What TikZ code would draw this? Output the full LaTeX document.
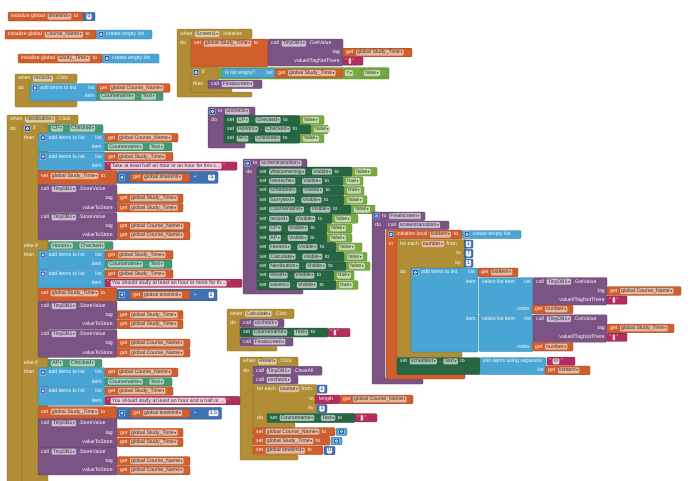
\documentclass[tikz,border=0pt]{standalone}
\usepackage{fontspec}
\setmainfont{Liberation Sans}
\newfontfamily\symf{DejaVu Sans}
\definecolor{vor}{HTML}{D05F2D}
\definecolor{ctl}{HTML}{B18E35}
\definecolor{lst}{HTML}{49A6D4}
\definecolor{mth}{HTML}{3F71B5}
\definecolor{prc}{HTML}{7C5385}
\definecolor{setg}{HTML}{266643}
\definecolor{getg}{HTML}{439970}
\definecolor{lgc}{HTML}{77AB41}
\definecolor{txt}{HTML}{B32D5E}
\definecolor{gearc}{HTML}{2F5DA8}
\colorlet{vorF}{vor!45!white}
\colorlet{ctlF}{ctl!45!white}
\colorlet{prcF}{prc!40!white}
\colorlet{setgF}{setg!40!white}
\colorlet{getgF}{getg!45!white}
\colorlet{lgcF}{lgc!45!white}
\colorlet{txtF}{txt!22!white}
\colorlet{mthF}{mth!10!white}
\newcommand\fs{\fontsize{5.2}{6}\selectfont}
\newcommand\dd{\hspace{0.6pt}{\symf\fontsize{3.6}{3.6}\selectfont ▾}}
\newcount\nc
\newcommand\nn{\global\advance\nc by 1\relax}
\tikzset{
  lbl/.style={anchor=west, inner sep=0pt, text=white, font=\fs, text height=3.7pt, text depth=1.1pt},
  lblr/.style={lbl, anchor=east},
  fld/.style={anchor=west, fill=#1, text=black!80, inner xsep=1.2pt, inner ysep=0pt, minimum height=6pt, text height=3.7pt, text depth=1.1pt, rounded corners=1pt, font=\fs},
  blk/.style={fill=#1, draw=#1!70!black, line width=0.3pt, rounded corners=1pt},
}
\newcommand\kB[5]{\path[blk=#1] (#2,#3) rectangle (#4,#5);}
\newcommand\kC[9]{\path[blk=#1] (#2,#3) -- (#4,#3) -- (#4,#5) -- (#6,#5) -- (#6,#7) -- (#8,#7) -- (#8,#9) -- (#2,#9) -- cycle;}
\newcommand\kT[3]{\nn\node[lbl] (n\the\nc) at (#1,#2) {#3};}
\newcommand\kR[3]{\nn\node[lblr] (n\the\nc) at (#1,#2) {#3};}
\newcommand\kF[4]{\nn\node[fld=#1] (n\the\nc) at (#2,#3) {#4\dd};}
\newcommand\kTn[1]{\edef\pv{n\the\nc}\nn\node[lbl] (n\the\nc) at ([xshift=2.2pt]\pv.east) {#1};}
\newcommand\kFn[2]{\edef\pv{n\the\nc}\nn\node[fld=#1] (n\the\nc) at ([xshift=2.2pt]\pv.east) {#2\dd};}
\newcommand\kEn[2]{\edef\pv{n\the\nc}\nn\node[fld=#1] (n\the\nc) at ([xshift=1.3pt]\pv.east) {#2};}
\newcommand\kQn[1]{\edef\pv{n\the\nc}\nn\node[lbl] (n\the\nc) at ([xshift=1.3pt]\pv.east) {#1};}
\newcommand\kG[2]{\path[fill=gearc,draw=white,line width=0.3pt,rounded corners=0.6pt] (#1-2.8,#2-2.8) rectangle (#1+2.8,#2+2.8); \draw[white,line width=0.45pt] (#1,#2) circle (1.2pt);}
\newcommand\kGet[4]{\kB{vor}{#1}{#3-4.3}{#2}{#3+4.3}\kT{#1+3}{#3}{get}\kFn{vorF}{#4}}
\newcommand\kQ[4]{\kB{txt}{#1}{#3-4.1}{#2}{#3+4.1}\kT{#1+2}{#3}{"}\kEn{txtF}{#4}\kQn{"}}
\newcommand\kNum[4]{\kB{mth}{#1}{#3-4.1}{#2}{#3+4.1}\nn\node[fld=mthF,anchor=center] (n\the\nc) at ({(#1+#2)/2},#3) {#4};}
\newcommand\kBool[4]{\kB{lgc}{#1}{#3-4.3}{#2}{#3+4.3}\kF{lgcF}{#1+3}{#3}{#4}}
\newcommand\kCT[1]{\kB{getg}{105}{#1-4.2}{172}{#1+4.2}\kF{getgF}{108}{#1}{Coursename}\kTn{.}\kFn{getgF}{Text}}
\newcommand\kADD[4]{\kB{lst}{38}{#1-4.6}{105}{#2+4.6}\kG{43}{#1}\kT{48.5}{#1}{add items to list}\kR{102}{#1}{list}\kR{102}{#2}{item}\kGet{105}{#4}{#1}{#3}}
\newcommand\kSTO[7]{\kB{prc}{38}{#1-4.5}{117}{#3+4.6}\kT{41}{#1}{call}\kFn{prcF}{TinyDB1}\kTn{.StoreValue}\kR{113}{#2}{tag}\kR{113}{#3}{valueToStore}\kGet{117}{#5}{#2}{#4}\kGet{117}{#7}{#3}{#6}}
\newcommand\kSET[3]{\kB{vor}{38}{#1}{117}{#1+13.4}\kT{41}{#1+5.2}{set}\kFn{vorF}{global Study\_Time}\kTn{to}%
  \kB{mth}{117}{#1+0.8}{#3}{#1+12.6}\kG{122}{#1+6.7}\kGet{130}{190}{#1+6.7}{global timelimit}\kT{193.5}{#1+6.7}{+}%
  \nn\node[fld=mthF,anchor=east] (n\the\nc) at (#3-3,#1+6.7) {#2};}
\newcommand\kSV[5]{\kB{setg}{257}{#1-4.6}{#3}{#1+4.6}\kT{259.5}{#1}{set}\kFn{setgF}{#2}\kTn{.}\kFn{setgF}{Visible}\kTn{to}\kBool{#3}{#5}{#1}{#4}}
\newcommand\kSC[4]{\kB{setg}{224}{#1-4.6}{#3}{#1+4.6}\kT{227}{#1}{set}\kFn{setgF}{#2}\kTn{.}\kFn{setgF}{Checked}\kTn{to}\kBool{#3}{#4}{#1}{false}}
\begin{document}
\begin{tikzpicture}[x=1pt,y=-1pt]
\useasboundingbox (0,0) rectangle (690,480);
\fill[white] (0,0) rectangle (690,480);
% ---- initialize globals
\kB{vor}{8}{12}{84}{21}
\kT{11}{16.5}{initialize global}\kFn{vorF}{timelimit}\kTn{to}
\kNum{83}{95}{16.5}{0}
\kB{vor}{5}{30}{96}{39}
\kT{8}{34.5}{initialize global}\kFn{vorF}{Course\_Name}\kTn{to}
\kB{lst}{96}{30}{152}{39}\kG{101}{34.5}\kT{106}{34.5}{create empty list}
\kB{vor}{18}{54}{102}{63}
\kT{21}{58.5}{initialize global}\kFn{vorF}{Study\_Time}\kTn{to}
\kB{lst}{102}{54}{159}{63}\kG{107}{58.5}\kT{112}{58.5}{create empty list}
% ---- when record.Click
\kC{ctl}{15}{74}{77}{83}{30}{101}{77}{107}
\kT{18}{78.5}{when}\kFn{ctlF}{record}\kTn{.Click}
\kT{18}{88}{do}
\kB{lst}{30}{83.5}{97}{101}\kG{35}{88}\kT{40}{88}{add items to list}\kR{95}{88}{list}
\kGet{97}{170}{88}{global Course\_Name}
\kR{95}{96.5}{item}
\kB{getg}{97}{92.3}{163}{100.7}\kF{getgF}{100}{96.5}{Coursename}\kTn{.}\kFn{getgF}{Text}
% ---- when Screen1.Initialize
\kC{ctl}{177}{29}{252}{38.5}{191}{92}{252}{97}
\kT{180}{34}{when}\kFn{ctlF}{Screen1}\kTn{.Initialize}
\kT{180}{43.5}{do}
\kB{vor}{191}{39}{268}{67}
\kT{194}{43.5}{set}\kFn{vorF}{global Study\_Time}\kTn{to}
\kB{prc}{268}{39}{343}{66}
\kT{271}{43.5}{call}\kFn{prcF}{TinyDB1}\kTn{.GetValue}
\kR{340}{52.5}{tag}\kR{340}{61}{valueIfTagNotThere}
\kGet{343}{412}{52.5}{global Study\_Time}
\kQ{343}{363}{61}{\hspace{3pt}}
\kC{ctl}{191}{67}{219}{79.5}{208}{88.5}{232}{92.5}
\kG{196}{72.5}\kT{202}{72.5}{if}
\kT{193}{84.2}{then}
\kB{lgc}{219}{67.5}{389}{79}
\kB{lst}{222}{68.7}{275}{77.7}\kT{225}{73.2}{is list empty?}\kR{273}{73.2}{list}
\kGet{275}{343}{73.2}{global Study\_Time}
\kF{lgcF}{345}{73.2}{=}
\kBool{361}{387}{73.2}{false}
\kB{prc}{208}{80}{262}{88.5}\kT{211}{84.2}{call}\kFn{prcF}{Finalscreen}
% ---- to uncheck
\kC{prc}{208}{107}{255}{116}{224}{143.3}{245}{148}
\kG{212.5}{111.5}\kT{218}{111.5}{to}\kFn{prcF}{uncheck}
\kT{211}{120}{do}
\kSC{120}{CP}{300}{324}
\kSC{129.3}{Honors}{311}{328}
\kSC{138.6}{AP}{300}{324}
% ---- to screentransition
\kC{prc}{243}{159}{307}{167.5}{257}{289.6}{303}{294}
\kG{247.5}{163.3}\kT{253}{163.3}{to}\kFn{prcF}{screentransition}
\kT{246}{172}{do}
\kSV{171.7}{Welcomemsg}{352}{false}{377}
\kSV{181.1}{heresche}{343}{true}{363}
\kSV{190.6}{schedtext}{344}{true}{364}
\kSV{200.0}{Sorrytext}{344}{false}{367}
\kSV{209.5}{Coursename}{351}{false}{375}
\kSV{218.9}{record}{332}{false}{358}
\kSV{228.3}{CP}{327}{false}{352}
\kSV{237.8}{AP}{327}{false}{352}
\kSV{247.2}{Honors}{336}{false}{362}
\kSV{256.7}{Calculate}{344}{false}{367}
\kSV{266.1}{Nextbutton}{346}{false}{370}
\kSV{275.5}{Reset}{334}{true}{354}
\kSV{285.0}{savesc}{336}{true}{358}
% ---- to Finalscreen
\kC{prc}{372}{212}{425}{220.5}{385}{378.5}{423}{384}
\kG{376.5}{216.2}\kT{382}{216.2}{to}\kFn{prcF}{Finalscreen}
\kT{375}{225.2}{do}
\kB{prc}{385}{221}{449}{229.5}\kT{388}{225.2}{call}\kFn{prcF}{screentransition}
\kC{vor}{386}{230}{462}{239}{397}{373.5}{465}{379}
\kG{391}{234.5}\kT{396.5}{234.5}{initialize local}\kFn{vorF}{listItem}\kTn{to}
\kB{lst}{462}{230.5}{521}{238.5}\kG{467}{234.5}\kT{472.5}{234.5}{create empty list}
\kT{389}{244}{in}
\kC{ctl}{397}{239.5}{466}{268}{411}{352}{462}{357.5}
\kT{400}{244}{for each}\kFn{vorF}{number}\kTn{from}
\kR{461}{253.5}{to}\kR{461}{263}{by}
\kNum{464}{473}{244}{1}\kNum{464}{473}{253.5}{7}\kNum{464}{473}{263}{1}
\kT{400}{272.5}{do}
\kB{lst}{411}{268}{478}{352}
\kG{415.5}{272.3}\kT{421}{272.3}{add items to list}\kR{475}{272.3}{list}
\kGet{478}{518}{272.3}{listItem}
\kR{476}{281.7}{item}\kR{476}{319}{item}
\kB{lst}{479}{277.5}{533}{314.3}\kT{482}{281.7}{select list item}\kR{531}{281.7}{list}\kR{530}{309.3}{index}
\kB{prc}{533}{277.5}{607}{305}\kT{536}{281.7}{call}\kFn{prcF}{TinyDB1}\kTn{.GetValue}
\kR{605}{291}{tag}\kR{605}{300}{valueIfTagNotThere}
\kGet{607}{681}{291}{global Course\_Name}
\kQ{607}{627}{300}{\hspace{3pt}}
\kGet{532}{573}{309.3}{number}
\kB{lst}{479}{314.8}{533}{351.5}\kT{482}{319}{select list item}\kR{531}{319}{list}\kR{530}{346.7}{index}
\kB{prc}{533}{314.8}{607}{342.2}\kT{536}{319}{call}\kFn{prcF}{TinyDB1}\kTn{.GetValue}
\kR{605}{328.3}{tag}\kR{605}{337.3}{valueIfTagNotThere}
\kGet{607}{674}{328.3}{global Study\_Time}
\kQ{607}{627}{337.3}{\hspace{3pt}}
\kGet{532}{573}{346.7}{number}
\kB{setg}{397}{357.5}{480}{374.5}
\kT{400}{361.3}{set}\kFn{setgF}{schedtext}\kTn{.}\kFn{setgF}{Text}\kTn{to}
\kB{lst}{480}{357.5}{546}{374.5}\kT{483}{361.3}{join items using separator}\kR{544}{370.3}{list}
\kQ{547}{575}{361.3}{\textbackslash n}
\kGet{545}{590}{370.3}{listItem}
% ---- when Calculate.Click
\kC{ctl}{227}{309}{294}{318.5}{240}{346.5}{277}{351}
\kT{230}{313.7}{when}\kFn{ctlF}{Calculate}\kTn{.Click}
\kT{230}{323.3}{do}
\kB{prc}{240}{319}{284}{327.5}\kT{243}{323.3}{call}\kFn{prcF}{uncheck}
\kB{setg}{240}{328}{328}{337}\kT{243}{332.5}{set}\kFn{setgF}{Coursename}\kTn{.}\kFn{setgF}{Text}\kTn{to}
\kQ{328}{350}{332.5}{\hspace{3pt}}
\kB{prc}{240}{337.5}{293}{346}\kT{243}{341.7}{call}\kFn{prcF}{Finalscreen}
% ---- when Reset.Click
\kC{ctl}{240}{357}{298}{366.3}{253}{455}{298}{460}
\kT{243}{361.5}{when}\kFn{ctlF}{Reset}\kTn{.Click}
\kT{243}{371}{do}
\kB{prc}{253}{366.6}{322}{375.2}\kT{256}{370.9}{call}\kFn{prcF}{TinyDB1}\kTn{.ClearAll}
\kB{prc}{253}{375.6}{298}{384.2}\kT{256}{379.9}{call}\kFn{prcF}{uncheck}
\kC{ctl}{253}{384.5}{317}{413}{267}{422.8}{295}{427.5}
\kT{257}{389}{for each}\kFn{vorF}{course}\kTn{from}
\kR{314}{399.3}{to}\kR{314}{408.5}{by}
\kNum{317}{327}{389}{1}
\kB{txt}{315}{395}{340}{403.6}\kT{319}{399.3}{length}
\kGet{340}{413}{399.3}{global Course\_Name}
\kNum{317}{327}{408.5}{1}
\kT{257}{417.8}{do}
\kB{setg}{267}{413.3}{355}{422.5}\kT{270}{417.8}{set}\kFn{setgF}{Coursename}\kTn{.}\kFn{setgF}{Text}\kTn{to}
\kQ{355}{377}{417.8}{\hspace{3pt}}
\kB{vor}{253}{427.5}{335}{436}\kT{256}{431.7}{set}\kFn{vorF}{global Course\_Name}\kTn{to}
\kB{lst}{336}{428}{347}{435.5}\kG{341.5}{431.7}
\kB{vor}{253}{436.6}{330}{445.2}\kT{256}{441}{set}\kFn{vorF}{global Study\_Time}\kTn{to}
\kB{lst}{331}{437.2}{342}{444.8}\kG{336.5}{441}
\kB{vor}{253}{446}{323}{454.7}\kT{256}{450.5}{set}\kFn{vorF}{global timelimit}\kTn{to}
\kNum{324}{335}{450.5}{0}
% ---- when Nextbutton.Click
\kC{ctl}{7}{115}{78}{124}{22}{490}{60}{495}
\kT{10}{119.5}{when}\kFn{ctlF}{Nextbutton}\kTn{.Click}
\kT{10}{129}{do}
\kB{ctl}{22}{124.3}{48}{490}
\kG{27.5}{128.5}\kT{33}{128.5}{if}
\kT{24}{137.7}{then}
\kT{24}{245.7}{else if}\kT{24}{255}{then}
\kT{24}{363.3}{else if}\kT{24}{372.3}{then}
\kB{getg}{48}{124.5}{103}{132.5}\kF{getgF}{51}{128.5}{CP}\kTn{.}\kFn{getgF}{Checked}
\kB{getg}{48}{241.7}{113}{249.7}\kF{getgF}{51}{245.7}{Honors}\kTn{.}\kFn{getgF}{Checked}
\kB{getg}{48}{359.3}{102}{367.3}\kF{getgF}{51}{363.3}{AP}\kTn{.}\kFn{getgF}{Checked}
% CP branch
\kADD{137.7}{146.7}{global Course\_Name}{178}\kCT{146.7}
\kADD{156.7}{166}{global Study\_Time}{173}
\kQ{105}{237}{166}{Take at least half an hour or an hour for this c...}
\kSET{170.8}{.5}{218}
\kSTO{189}{198.3}{207.7}{global Study\_Time}{183}{global Study\_Time}{183}
\kSTO{217.3}{226.3}{235.3}{global Course\_Name}{190}{global Course\_Name}{190}
% Honors branch
\kADD{255}{264.3}{global Study\_Time}{173}\kCT{264.3}
\kADD{274}{283.3}{global Study\_Time}{173}
\kQ{105}{242}{283.3}{You should study at least an hour or more for th...}
\kSET{288.2}{1}{217}
\kSTO{306}{315}{324.3}{global Study\_Time}{183}{global Study\_Time}{183}
\kSTO{334}{343.3}{352.7}{global Course\_Name}{190}{global Course\_Name}{190}
% AP branch
\kADD{372.3}{381.7}{global Course\_Name}{178}\kCT{381.7}
\kADD{391}{400.7}{global Study\_Time}{173}
\kQ{105}{240}{400.7}{You should study at least an hour and a half or ...}
\kSET{406.5}{1.5}{221.5}
\kSTO{423.3}{432.7}{442.3}{global Study\_Time}{183}{global Study\_Time}{183}
\kSTO{451.7}{461}{470.3}{global Course\_Name}{190}{global Course\_Name}{190}
\end{tikzpicture}
\end{document}
